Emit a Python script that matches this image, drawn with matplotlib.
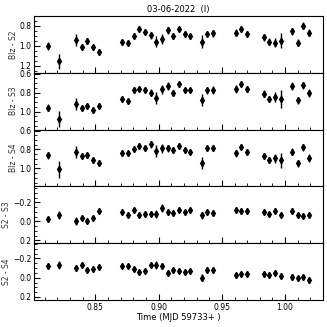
import numpy as np
import matplotlib
matplotlib.use("Agg")
import matplotlib.pyplot as plt
from matplotlib.ticker import MultipleLocator, AutoMinorLocator

# ------------------------
# Data
# ------------------------
time = [0.8123, 0.8213, 0.8348, 0.8392, 0.8437, 0.8482, 0.8526,
        0.8711, 0.8755, 0.8802, 0.8847, 0.8892, 0.8937, 0.8982, 0.9027,
        0.9071, 0.9116, 0.9161, 0.9205, 0.9250, 0.9339, 0.9384, 0.9429,
        0.9608, 0.9653, 0.9698, 0.9832, 0.9876, 0.9921, 0.9966,
        1.0056, 1.0100, 1.0145, 1.0190]

blz_s2 = [0.998, 1.154, 0.939, 1.008, 0.950, 1.016, 1.060,
          0.964, 0.967, 0.898, 0.828, 0.856, 0.891, 0.957, 0.932,
          0.842, 0.898, 0.835, 0.877, 0.904, 0.957, 0.877, 0.873,
          0.870, 0.828, 0.877, 0.911, 0.957, 0.967, 0.946,
          0.853, 0.967, 0.800, 0.870]
blz_s2_err = [0.042, 0.076, 0.062, 0.028, 0.028, 0.028, 0.031,
              0.028, 0.028, 0.031, 0.028, 0.028, 0.035, 0.056, 0.049,
              0.035, 0.028, 0.028, 0.028, 0.028, 0.062, 0.028, 0.035,
              0.035, 0.028, 0.028, 0.035, 0.035, 0.049, 0.076,
              0.035, 0.035, 0.035, 0.035]

blz_s3 = [0.960, 1.078, 0.918, 0.960, 0.936, 0.982, 0.936,
          0.864, 0.890, 0.768, 0.757, 0.768, 0.800, 0.853, 0.764,
          0.729, 0.804, 0.711, 0.775, 0.775, 0.875, 0.775, 0.775,
          0.757, 0.711, 0.764, 0.811, 0.868, 0.847, 0.864,
          0.729, 0.882, 0.722, 0.800]
blz_s3_err = [0.035, 0.087, 0.062, 0.028, 0.028, 0.028, 0.028,
              0.028, 0.028, 0.028, 0.028, 0.028, 0.035, 0.062, 0.049,
              0.042, 0.028, 0.028, 0.028, 0.028, 0.062, 0.035, 0.042,
              0.042, 0.028, 0.028, 0.035, 0.035, 0.049, 0.097,
              0.042, 0.035, 0.035, 0.042]

blz_s4 = [0.863, 1.010, 0.828, 0.870, 0.863, 0.913, 0.941,
          0.842, 0.842, 0.800, 0.765, 0.783, 0.747, 0.818, 0.789,
          0.789, 0.807, 0.765, 0.810, 0.825, 0.947, 0.789, 0.783,
          0.842, 0.771, 0.825, 0.870, 0.913, 0.895, 0.916,
          0.825, 0.947, 0.779, 0.888]
blz_s4_err = [0.035, 0.087, 0.062, 0.028, 0.028, 0.028, 0.028,
              0.028, 0.028, 0.028, 0.028, 0.028, 0.035, 0.062, 0.049,
              0.035, 0.028, 0.028, 0.028, 0.028, 0.062, 0.028, 0.035,
              0.035, 0.028, 0.028, 0.035, 0.035, 0.049, 0.076,
              0.035, 0.035, 0.035, 0.042]

s2_s3 = [-0.028, -0.070, -0.007, -0.035, -0.007, -0.035, -0.112,
         -0.094, -0.070, -0.122, -0.070, -0.080, -0.080, -0.080, -0.140,
         -0.098, -0.087, -0.122, -0.094, -0.122, -0.063, -0.094, -0.087,
         -0.115, -0.105, -0.105, -0.098, -0.077, -0.112, -0.070,
         -0.112, -0.070, -0.059, -0.063]
s2_s3_err = [0.028, 0.042, 0.042, 0.021, 0.021, 0.021, 0.021,
             0.021, 0.021, 0.021, 0.021, 0.021, 0.028, 0.042, 0.042,
             0.028, 0.021, 0.021, 0.021, 0.021, 0.035, 0.028, 0.028,
             0.028, 0.021, 0.021, 0.021, 0.021, 0.028, 0.021,
             0.028, 0.021, 0.028, 0.028]

s2_s4 = [-0.121, -0.128, -0.100, -0.128, -0.083, -0.094, -0.110,
         -0.125, -0.125, -0.087, -0.058, -0.066, -0.128, -0.128, -0.121,
         -0.052, -0.083, -0.069, -0.058, -0.069, 0.000, -0.083, -0.083,
         -0.024, -0.042, -0.042, -0.035, -0.031, -0.052, -0.014,
         -0.007, 0.000, -0.007, 0.028]
s2_s4_err = [0.028, 0.042, 0.035, 0.021, 0.021, 0.021, 0.021,
             0.021, 0.021, 0.021, 0.021, 0.021, 0.021, 0.042, 0.035,
             0.028, 0.021, 0.021, 0.021, 0.021, 0.035, 0.028, 0.028,
             0.028, 0.021, 0.021, 0.028, 0.021, 0.028, 0.021,
             0.028, 0.021, 0.028, 0.028]

panels = [
    ("Blz - S2", blz_s2, blz_s2_err, (1.27, 0.70)),
    ("Blz - S3", blz_s3, blz_s3_err, (1.19, 0.59)),
    ("Blz - S4", blz_s4, blz_s4_err, (1.19, 0.59)),
    ("S2 - S3", s2_s3, s2_s3_err, (0.23, -0.37)),
    ("S2 - S4", s2_s4, s2_s4_err, (0.23, -0.36)),
]

# ------------------------
# Plot
# ------------------------
fig, axes = plt.subplots(5, 1, figsize=(3.27, 3.27), dpi=100, sharex=True)
fig.subplots_adjust(left=0.104, right=0.988, top=0.951, bottom=0.083, hspace=0)

for ax, (label, vals, errs, ylim) in zip(axes, panels):
    ax.errorbar(time, vals, yerr=errs, fmt="d", color="black", ms=3.2,
                elinewidth=1.0, capsize=0)
    ax.set_ylim(*ylim)
    ax.set_ylabel(label, fontsize=5.5, color="#333333", labelpad=1)
    ax.yaxis.set_major_locator(MultipleLocator(0.2))
    ax.yaxis.set_minor_locator(AutoMinorLocator(4))
    ax.xaxis.set_major_locator(MultipleLocator(0.05))
    ax.xaxis.set_minor_locator(MultipleLocator(0.01))
    ax.tick_params(axis="both", which="both", direction="in", labelsize=5.5, pad=2)
    ax.tick_params(which="major", length=4, width=0.8)
    ax.tick_params(which="minor", length=2, width=0.6)
    for sp in ax.spines.values():
        sp.set_linewidth(0.8)

axes[-1].set_xlim(0.8015, 1.03)
axes[-1].xaxis.set_major_formatter(plt.FuncFormatter(lambda v, p: f"{v:.2f}"))
axes[-1].set_xlabel("Time (MJD 59733+ )", fontsize=6, labelpad=1)
axes[0].set_title("03-06-2022  (I)", fontsize=6, pad=3)

plt.savefig("out.png", dpi=100)
plt.close()
